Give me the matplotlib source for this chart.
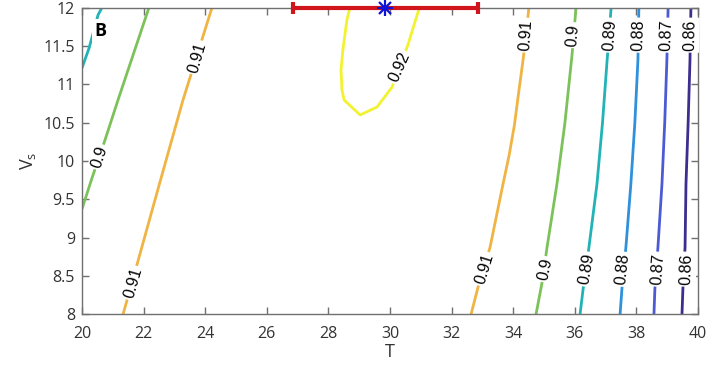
import matplotlib
matplotlib.use('Agg')
import matplotlib.pyplot as plt

plt.rcParams['font.family'] = ['Open Sans', 'DejaVu Sans']
plt.rcParams['mathtext.fontset'] = 'custom'
plt.rcParams['mathtext.rm'] = 'Open Sans'

# contour levels and their colours (parula-like)
levels = [0.86, 0.87, 0.88, 0.89, 0.90, 0.91, 0.92]
level_colors = ['#3b2e8e', '#4c5bd4', '#2f90dc', '#22b3b6', '#7cc25a', '#f0b444', '#f2f230']

# contour paths, (T, Vs) pairs
c086_T = [39.77, 39.74, 39.68, 39.61, 39.58, 39.51, 39.48]
c086_V = [12.0, 11.316, 10.5, 9.70, 8.879, 8.332, 8.0]
c087_T = [39.03, 38.99, 38.92, 38.83, 38.70, 38.60, 38.57]
c087_V = [12.0, 11.316, 10.5, 9.70, 8.879, 8.332, 8.0]
c088_T = [38.08, 38.05, 37.95, 37.82, 37.66, 37.53, 37.47]
c088_V = [12.0, 11.316, 10.5, 9.70, 8.879, 8.332, 8.0]
c089_T = [37.18, 37.05, 36.90, 36.72, 36.46, 36.27, 36.17]
c089_V = [12.0, 11.316, 10.5, 9.70, 8.879, 8.332, 8.0]
c089b_T = [20.0, 20.23, 20.52, 20.65]
c089b_V = [11.212, 11.472, 11.902, 12.0]
c090_T = [36.04, 35.91, 35.68, 35.42, 35.10, 34.94, 34.74]
c090_V = [12.0, 11.381, 10.5, 9.70, 8.879, 8.423, 8.0]
c090b_T = [22.175, 21.169, 20.747, 20.325, 20.0]
c090b_V = [12.0, 10.795, 10.274, 9.779, 9.375]
c091_T = [34.51, 34.42, 34.32, 34.18, 34.04, 33.87, 33.67, 33.46, 33.25, 32.86, 32.63]
c091_V = [12.0, 11.65, 11.316, 10.90, 10.469, 10.08, 9.70, 9.29, 8.879, 8.358, 8.0]
c091b_T = [24.221, 23.279, 22.532, 21.818, 21.331]
c091b_V = [12.0, 10.795, 9.727, 8.697, 8.0]
c092_T = [28.70, 28.60, 28.47, 28.41, 28.44, 28.51, 29.03, 29.58, 30.07, 30.58, 30.91, 30.97]
c092_V = [12.0, 11.837, 11.446, 11.186, 10.925, 10.795, 10.60, 10.704, 10.964, 11.511, 11.941, 12.0]

paths = [
    (0.86, c086_T, c086_V),
    (0.87, c087_T, c087_V),
    (0.88, c088_T, c088_V),
    (0.89, c089_T, c089_V),
    (0.89, c089b_T, c089b_V),
    (0.90, c090_T, c090_V),
    (0.90, c090b_T, c090b_V),
    (0.91, c091_T, c091_V),
    (0.91, c091b_T, c091b_V),
    (0.92, c092_T, c092_V),
]

# inline labels: text, T, Vs, rotation
label_text = ['0.86', '0.86', '0.87', '0.87', '0.88', '0.88', '0.89', '0.89',
              '0.9', '0.9', '0.9', '0.91', '0.91', '0.91', '0.91', '0.92']
label_T = [39.74, 39.64, 38.99, 38.70, 38.08, 37.56, 37.14, 36.40,
           35.94, 35.03, 20.58, 34.42, 33.08, 23.73, 21.66, 30.32]
label_V = [11.64, 8.59, 11.64, 8.59, 11.64, 8.59, 11.64, 8.59,
           11.64, 8.59, 10.05, 11.64, 8.59, 11.35, 8.41, 11.22]
label_rot = [89, 88, 88, 86, 88, 84, 86, 80,
             85, 78, 72, 86, 73, 74, 74, 66]

# optimum with its interval
opt_T = 29.85
opt_err = 3.0
opt_V = 12.0

fig = plt.figure(figsize=(7.27, 3.68), dpi=100)
ax = fig.add_axes([0.1128, 0.1454, 0.8473, 0.8342])

for lev, t, v in paths:
    col = level_colors[levels.index(lev)]
    ax.plot(t, v, color=col, lw=2.0, solid_capstyle='butt', zorder=2)

for txt, t, v, r in zip(label_text, label_T, label_V, label_rot):
    ax.text(t, v, txt, rotation=r, ha='center', va='center', fontsize=11.5,
            family=['Liberation Sans'], color='black', zorder=3,
            bbox=dict(boxstyle='square,pad=0.12', fc='white', ec='none'))

ax.errorbar([opt_T], [opt_V], xerr=[opt_err], fmt='none', ecolor='#d0161c',
            elinewidth=3, capsize=4, capthick=3, clip_on=False, zorder=5)
# asterisk marker built from a plus and a cross
ax.plot([opt_T], [opt_V], marker='+', ls='none', color='#1010d8', ms=11,
        mew=1.6, clip_on=False, zorder=6)
ax.plot([opt_T], [opt_V], marker='x', ls='none', color='#1010d8', ms=8,
        mew=1.6, clip_on=False, zorder=6)

ax.text(0.03, 0.925, 'B', transform=ax.transAxes, fontsize=13,
        fontweight='bold', ha='center', va='center', zorder=4,
        bbox=dict(boxstyle='square,pad=0.15', fc='white', ec='none'))

ax.set_xlim(20, 40)
ax.set_ylim(8, 12)
ax.set_xticks(range(20, 41, 2))
ax.set_yticks([8, 8.5, 9, 9.5, 10, 10.5, 11, 11.5, 12])
ax.set_yticklabels(['8', '8.5', '9', '9.5', '10', '10.5', '11', '11.5', '12'])
ax.tick_params(direction='in', length=5, width=1, color='#707070',
               labelcolor='#333333', labelsize=11.5, top=True, right=True)
ax.tick_params(axis='x', pad=8)
ax.tick_params(axis='y', pad=5)
for s in ax.spines.values():
    s.set_color('#707070')
    s.set_linewidth(1)

ax.set_xlabel('T', fontsize=13, color='#333333', labelpad=1)
ax.set_ylabel(r'V$_{\mathrm{s}}$', fontsize=13, color='#333333', labelpad=4)

fig.savefig('out.png', dpi=100)
